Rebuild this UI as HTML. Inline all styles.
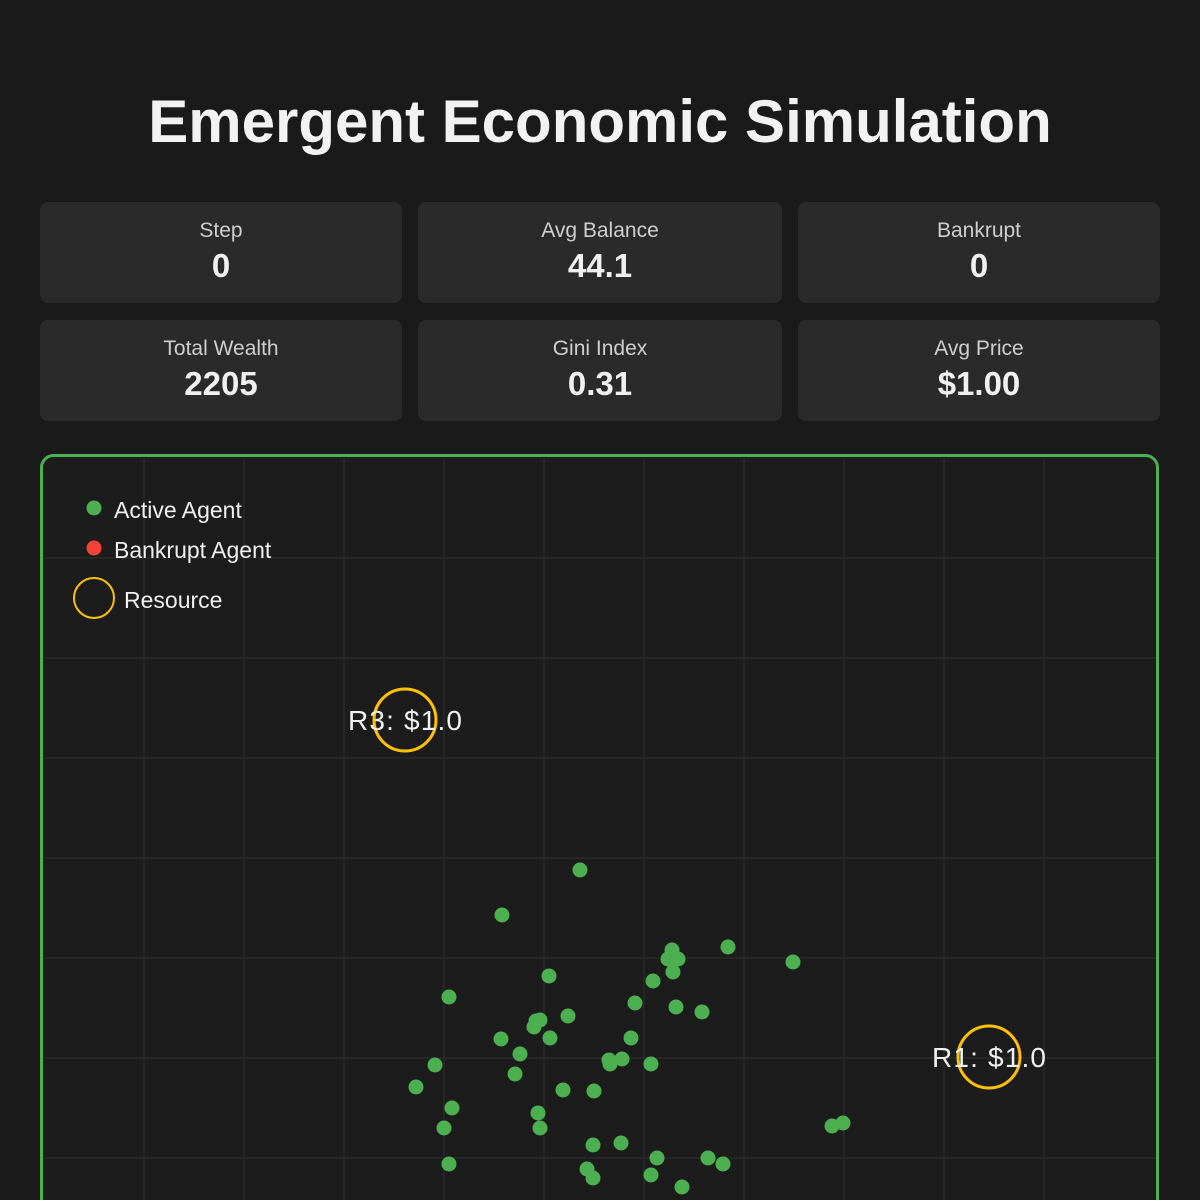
<!DOCTYPE html>
<html><head><meta charset="utf-8"><style>
html,body{margin:0;padding:0;background:#1a1a1a;width:1200px;height:1200px;overflow:hidden;font-family:"Liberation Sans",sans-serif;}
h1{position:absolute;top:86px;left:0;width:1200px;margin:0;text-align:center;color:#f2f2f2;font-size:60px;font-weight:bold;line-height:72px;}
.card{position:absolute;background:#2a2a2a;border-radius:8px;text-align:center;color:#fff;}
.l{font-size:21px;color:#cfcfcf;margin-top:16px;line-height:26px;}
.v{font-size:33px;font-weight:bold;color:#f0f0f0;line-height:44px;}
</style></head><body>
<h1>Emergent Economic Simulation</h1>
<div class="card" style="left:40px;top:202px;width:362px;height:101px"><div class="l">Step</div><div class="v">0</div></div>
<div class="card" style="left:418px;top:202px;width:364px;height:101px"><div class="l">Avg Balance</div><div class="v">44.1</div></div>
<div class="card" style="left:798px;top:202px;width:362px;height:101px"><div class="l">Bankrupt</div><div class="v">0</div></div>
<div class="card" style="left:40px;top:320px;width:362px;height:101px"><div class="l">Total Wealth</div><div class="v">2205</div></div>
<div class="card" style="left:418px;top:320px;width:364px;height:101px"><div class="l">Gini Index</div><div class="v">0.31</div></div>
<div class="card" style="left:798px;top:320px;width:362px;height:101px"><div class="l">Avg Price</div><div class="v">$1.00</div></div>
<svg width="1200" height="1200" style="position:absolute;left:0;top:0">
<rect x="41.5" y="455.5" width="1116" height="780" rx="12" fill="#1c1c1c" stroke="#4caf50" stroke-width="3"/>
<g stroke="#2a2a2a" stroke-width="1.5">
<line x1="144" y1="458" x2="144" y2="1200"/><line x1="244" y1="458" x2="244" y2="1200"/><line x1="344" y1="458" x2="344" y2="1200"/><line x1="444" y1="458" x2="444" y2="1200"/><line x1="544" y1="458" x2="544" y2="1200"/><line x1="644" y1="458" x2="644" y2="1200"/><line x1="744" y1="458" x2="744" y2="1200"/><line x1="844" y1="458" x2="844" y2="1200"/><line x1="944" y1="458" x2="944" y2="1200"/><line x1="1044" y1="458" x2="1044" y2="1200"/>
<line x1="44" y1="558" x2="1156" y2="558"/><line x1="44" y1="658" x2="1156" y2="658"/><line x1="44" y1="758" x2="1156" y2="758"/><line x1="44" y1="858" x2="1156" y2="858"/><line x1="44" y1="958" x2="1156" y2="958"/><line x1="44" y1="1058" x2="1156" y2="1058"/><line x1="44" y1="1158" x2="1156" y2="1158"/>
</g>
<circle cx="94" cy="508" r="7.5" fill="#4caf50"/>
<circle cx="94" cy="548" r="7.5" fill="#f44336"/>
<circle cx="94" cy="598" r="20" fill="none" stroke="#ffc107" stroke-width="2"/>
<g font-family="Liberation Sans, sans-serif" font-size="23" fill="#f0f0f0">
<text x="114" y="518">Active Agent</text>
<text x="114" y="558">Bankrupt Agent</text>
<text x="124" y="608">Resource</text>
</g>
<g fill="#4caf50">
<circle cx="580" cy="870" r="7.5"/><circle cx="502" cy="915" r="7.5"/><circle cx="672" cy="950" r="7.5"/><circle cx="668" cy="959" r="7.5"/><circle cx="678" cy="959" r="7.5"/><circle cx="728" cy="947" r="7.5"/><circle cx="793" cy="962" r="7.5"/><circle cx="549" cy="976" r="7.5"/><circle cx="673" cy="972" r="7.5"/><circle cx="449" cy="997" r="7.5"/><circle cx="653" cy="981" r="7.5"/><circle cx="635" cy="1003" r="7.5"/><circle cx="676" cy="1007" r="7.5"/><circle cx="702" cy="1012" r="7.5"/><circle cx="540" cy="1020" r="7.5"/><circle cx="536" cy="1021" r="7.5"/><circle cx="534" cy="1027" r="7.5"/><circle cx="568" cy="1016" r="7.5"/><circle cx="550" cy="1038" r="7.5"/><circle cx="501" cy="1039" r="7.5"/><circle cx="631" cy="1038" r="7.5"/><circle cx="520" cy="1054" r="7.5"/><circle cx="609" cy="1060" r="7.5"/><circle cx="610" cy="1064" r="7.5"/><circle cx="622" cy="1059" r="7.5"/><circle cx="651" cy="1064" r="7.5"/><circle cx="435" cy="1065" r="7.5"/><circle cx="515" cy="1074" r="7.5"/><circle cx="416" cy="1087" r="7.5"/><circle cx="563" cy="1090" r="7.5"/><circle cx="594" cy="1091" r="7.5"/><circle cx="452" cy="1108" r="7.5"/><circle cx="538" cy="1113" r="7.5"/><circle cx="540" cy="1128" r="7.5"/><circle cx="444" cy="1128" r="7.5"/><circle cx="832" cy="1126" r="7.5"/><circle cx="843" cy="1123" r="7.5"/><circle cx="593" cy="1145" r="7.5"/><circle cx="621" cy="1143" r="7.5"/><circle cx="449" cy="1164" r="7.5"/><circle cx="657" cy="1158" r="7.5"/><circle cx="708" cy="1158" r="7.5"/><circle cx="723" cy="1164" r="7.5"/><circle cx="587" cy="1169" r="7.5"/><circle cx="593" cy="1178" r="7.5"/><circle cx="651" cy="1175" r="7.5"/><circle cx="682" cy="1187" r="7.5"/>
</g>
<circle cx="405" cy="720" r="31" fill="none" stroke="#ffc107" stroke-width="3"/>
<circle cx="989" cy="1057" r="31" fill="none" stroke="#ffc107" stroke-width="3"/>
<g font-family="Liberation Sans, sans-serif" font-size="28" fill="#f0f0f0" textLength="114">
<text x="348" y="730" textLength="114">R3: $1.0</text>
<text x="932" y="1067" textLength="114">R1: $1.0</text>
</g>
</svg>
</body></html>
